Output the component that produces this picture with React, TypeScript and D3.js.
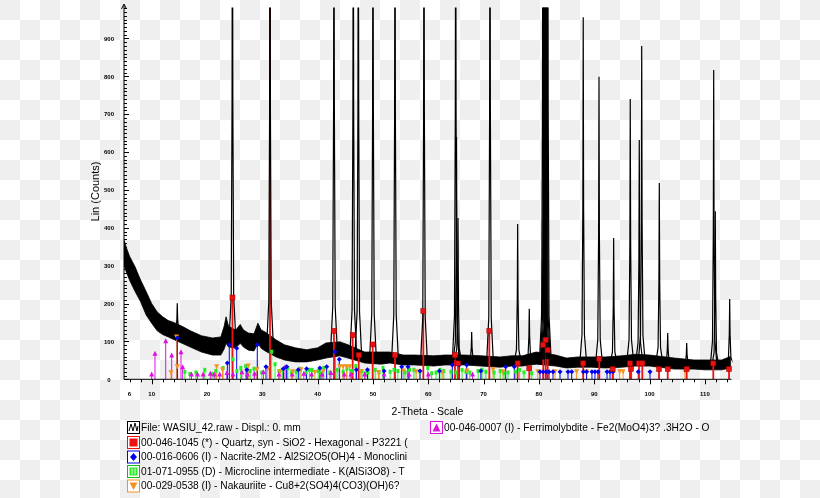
import React from 'react';
import * as d3 from 'd3';

// ---- pattern (background band envelopes, counts) ----
const bgTheta = [5, 5.5, 6, 7, 8, 9, 10, 11, 12, 13, 14, 15.5, 17, 19, 21, 22.5, 23.1, 23.45, 23.9, 25.2, 26.0, 26.6, 27.5, 28.5, 29.2, 29.8, 30.5, 32.5, 34, 36, 38, 40, 41.5, 44, 45.5, 48.5, 51.5, 53, 55.5, 57.5, 61, 63, 66.5, 69.5, 73, 75, 77, 79.5, 83, 85, 87, 89.5, 92, 95, 97.5, 100, 104.5, 108, 110, 113, 114.6];
const bgLow = [300, 280, 262, 232, 205, 170, 148, 128, 118, 112, 105, 95, 85, 72, 64, 64, 80, 95, 85, 83, 95, 85, 77, 75, 95, 82, 75, 59, 51, 46, 46, 51, 56, 62, 56, 43, 40, 43, 38, 38, 35, 38, 38, 35, 32, 35, 35, 40, 35, 30, 32, 32, 30, 32, 35, 35, 27, 27, 25, 25, 30];
const bgHigh = [367, 345, 325, 297, 262, 232, 200, 178, 165, 155, 150, 140, 128, 115, 109, 112, 140, 165, 140, 130, 145, 130, 122, 120, 148, 130, 125, 104, 91, 83, 78, 83, 96, 99, 91, 72, 72, 72, 64, 64, 62, 64, 64, 62, 59, 62, 62, 72, 64, 56, 59, 59, 59, 62, 66, 64, 56, 51, 51, 51, 60];

// ---- diffraction peaks (2-theta, counts) ----
const peakTheta = [14.63, 24.6, 31.39, 42.95, 46.44, 47.35, 50.0, 53.98, 59.22, 64.95, 65.1, 65.37, 67.84, 71.15, 76.15, 78.25, 80.7, 80.85, 81.0, 81.15, 81.3, 81.45, 81.6, 88.0, 90.85, 93.5, 96.5, 98.13, 98.57, 101.75, 103.27, 106.7, 111.58, 111.87, 114.47];
const peakCounts = [201, 1500, 1500, 1500, 1500, 1500, 1500, 1500, 1500, 1500, 640, 426, 125, 1500, 410, 186, 1500, 1400, 1300, 1200, 1300, 1400, 1500, 956, 799, 373, 740, 632, 880, 518, 122, 96, 817, 444, 212];

// ---- reference phases (stick positions, heights) ----
const quartzTheta = [24.6, 31.39, 42.95, 46.33, 47.42, 49.95, 53.98, 59.1, 64.82, 65.37, 71.03, 76.15, 78.25, 80.78, 81.21, 81.58, 88.0, 90.9, 93.32, 96.45, 96.63, 98.08, 98.68, 101.7, 103.27, 106.7, 111.51, 114.35];
const quartzCounts = [216, 982, 128, 117, 64, 92, 64, 180, 64, 42, 128, 42, 29, 91, 104, 77, 42, 54, 27, 42, 27, 42, 42, 27, 27, 27, 42, 27];

const nacriteTheta = [14.63, 23.67, 24.03, 25.37, 27.2, 29.09, 30.66, 33.8, 34.4, 36.5, 38.0, 40.4, 41.63, 43.13, 43.91, 47.0, 49.0, 52.0, 55.19, 56.33, 58.5, 62.0, 64.34, 65.6, 66.94, 69.5, 73.99, 75.54, 80.19, 80.74, 81.28, 81.82, 82.54, 83.8, 85.25, 85.91, 88.01, 88.62, 89.58, 90.12, 90.66, 92.3, 92.84, 93.38, 97.95, 100.07];
const nacriteCounts = [109, 43, 91, 82, 25, 91, 33, 28, 33, 25, 28, 30, 33, 73, 53, 25, 25, 22, 33, 33, 22, 22, 38, 38, 38, 22, 33, 33, 20, 20, 20, 20, 20, 20, 20, 20, 20, 20, 20, 20, 20, 20, 20, 20, 20, 20];

const microclineTheta = [16.0, 16.9, 18.0, 19.6, 20.9, 21.6, 22.9, 24.7, 25.4, 26.1, 27.0, 27.8, 28.5, 29.9, 31.7, 32.3, 33.0, 33.6, 34.6, 35.3, 36.1, 36.8, 37.9, 38.5, 39.0, 40.1, 40.6, 41.1, 42.2, 43.5, 44.6, 45.3, 46.1, 46.9, 48.0, 48.6, 49.1, 50.4, 51.1, 51.8, 53.1, 53.8, 54.5, 55.8, 56.6, 57.4, 58.5, 59.9, 60.6, 61.4, 62.1, 62.8, 64.1, 65.0, 66.1, 66.8, 67.5, 69.0, 69.7, 70.4, 71.9, 73.0, 73.7, 74.4, 75.8, 76.5, 77.3, 78.7];
const microclineCounts = [20, 14, 18, 25, 14, 22, 30, 53, 22, 30, 35, 22, 28, 18, 73, 40, 22, 25, 30, 18, 20, 28, 18, 25, 25, 22, 16, 30, 18, 25, 20, 28, 22, 35, 22, 16, 18, 25, 18, 30, 20, 25, 22, 18, 25, 25, 20, 30, 16, 18, 25, 22, 20, 18, 25, 20, 18, 22, 25, 20, 18, 22, 16, 18, 20, 25, 18, 16];

const nakauriteTheta = [13.5, 14.51, 14.63, 21.74, 22.8, 27.46, 29.0, 31.0, 33.2, 35.5, 37.0, 39.5, 41.0, 44.0, 44.6, 45.2, 45.8, 47.8, 51.0, 55.5, 57.8, 62.5, 67.0, 71.7, 73.5, 79.8, 82.9, 86.8, 88.6, 94.6, 95.2, 96.75, 106.4];
const nakauriteCounts = [17, 112, 33, 33, 25, 35, 25, 28, 20, 20, 25, 18, 20, 33, 33, 33, 33, 20, 18, 22, 20, 18, 22, 25, 20, 20, 20, 20, 20, 20, 20, 25, 20];

const ferriTheta = [10.0, 10.6, 12.54, 13.62, 15.3, 15.6, 17.2, 18.3, 19.3, 20.6, 21.3, 22.3, 23.6, 24.7, 26.3, 27.3, 28.6, 30.2, 33.0, 34.1, 35.4, 37.5, 38.9, 40.8, 42.4, 44.8, 46.0, 48.5, 52.0, 56.5, 60.0, 68.0];
const ferriCounts = [14, 69, 102, 64, 73, 33, 14, 14, 14, 16, 14, 14, 18, 14, 20, 14, 16, 20, 14, 33, 14, 16, 14, 14, 18, 14, 14, 14, 14, 14, 14, 14];

// ---- axes ----
const xTickLabels = [6, 10, 20, 30, 40, 50, 60, 70, 80, 90, 100, 110];
const yTickLabels = [0, 100, 200, 300, 400, 500, 600, 700, 800, 900];

// ---- legend ----
const legendLeft = [
  'File: WASIU_42.raw - Displ.: 0. mm',
  '00-046-1045 (*) - Quartz, syn - SiO2 - Hexagonal - P3221 (',
  '00-016-0606 (I) - Nacrite-2M2 - Al2Si2O5(OH)4 - Monoclini',
  '01-071-0955 (D) -  Microcline intermediate - K(AlSi3O8) - T',
  '00-029-0538 (I) - Nakauriite - Cu8+2(SO4)4(CO3)(OH)6?',
];
const legendRight = ['00-046-0007 (I) - Ferrimolybdite - Fe2(MoO4)3? .3H2O - O'];

const FONT = 'Liberation Sans, Arial, sans-serif';
const RED = '#ee1111';
const BLUE = '#0000ee';
const GREEN = '#22ee22';
const ORANGE = '#f39321';
const MAGENTA = '#dd11dd';

export default function App() {
  const x = d3.scaleLinear().domain([5, 114.6]).range([124, 730.4]);
  const y = d3.scaleLinear().domain([0, 982]).range([379.3, 7.4]);
  const x0 = x(5);
  const y0 = y(0);

  const idx = d3.range(bgTheta.length);
  const band = d3
    .area<number>()
    .x((i) => x(bgTheta[i]))
    .y0((i) => y(bgLow[i]))
    .y1((i) => y(bgHigh[i]))(idx) as string;

  const baseAt = (t: number) => {
    const i = Math.max(1, Math.min(bgTheta.length - 1, d3.bisectLeft(bgTheta, t)));
    const a = bgTheta[i - 1], b = bgTheta[i];
    const f = (t - a) / (b - a);
    const lo = bgLow[i - 1] + f * (bgLow[i] - bgLow[i - 1]);
    const hi = bgHigh[i - 1] + f * (bgHigh[i] - bgHigh[i - 1]);
    return (lo + hi) / 2;
  };

  const offs = [-0.6, -0.22, -0.07, 0, 0.07, 0.22, 0.6];
  const fracs = [0, 0.08, 0.45, 1, 0.45, 0.08, 0];
  const peakLine = d3.line<[number, number]>().x((d) => x(d[0])).y((d) => y(d[1]));
  const peakPaths = peakTheta.map((t, i) => {
    const base = baseAt(t);
    const h = peakCounts[i];
    const pts = offs.map((o, k) => [t + o, base + fracs[k] * (h - base)] as [number, number]);
    return peakLine(pts) as string;
  });

  const xMinor = d3.range(6, 115, 2);
  const yMinor = d3.range(0, 981, 10);

  const sym = (type: string, cx: number, cy: number, s: number, fill: string) => {
    if (type === 'square') return <rect x={cx - s / 2} y={cy - s / 2} width={s} height={s} fill={fill} stroke="#a00000" strokeWidth={0.5} />;
    if (type === 'diamond') return <path d={`M${cx},${cy - s / 2}L${cx + s / 2},${cy}L${cx},${cy + s / 2}L${cx - s / 2},${cy}Z`} fill={fill} />;
    if (type === 'down') return <path d={`M${cx - s / 2},${cy - s / 2}L${cx + s / 2},${cy - s / 2}L${cx},${cy + s / 2}Z`} fill={fill} />;
    if (type === 'up') return <path d={`M${cx - s / 2},${cy + s / 2}L${cx + s / 2},${cy + s / 2}L${cx},${cy - s / 2}Z`} fill={fill} />;
    return <rect x={cx - s / 2 + 0.5} y={cy - s / 2} width={s - 1} height={s} fill={fill} />;
  };

  const stickLines = (thetas: number[], counts: number[], color: string, w: number, key: string) =>
    thetas.map((t, i) => (
      <line key={key + i} x1={x(t)} x2={x(t)} y1={y0} y2={y(counts[i])} stroke={color} strokeWidth={w} />
    ));
  const stickMarks = (thetas: number[], counts: number[], color: string, type: string, s: number, key: string) =>
    thetas.map((t, i) => (counts[i] < 900 ? <g key={key + i}>{sym(type, x(t), y(counts[i]), s, color)}</g> : null));

  const legendRows = [427, 442, 456.5, 471, 485.5];
  const legendColors = ['#000', RED, BLUE, '#11bb11', ORANGE];
  const legendIcon = (i: number, ix: number, cy: number) => {
    const c = legendColors[i];
    return (
      <g key={'li' + i}>
        <rect x={ix + 0.5} y={cy - 5.5} width={12} height={12} fill="#fff" stroke={c} strokeWidth={1} />
        {i === 0 && (
          <path d={`M${ix + 2},${cy + 4}L${ix + 4},${cy - 3}L${ix + 6},${cy + 4}L${ix + 8},${cy - 4}L${ix + 10},${cy + 4}L${ix + 11},${cy - 1}`} fill="none" stroke="#000" strokeWidth={1} />
        )}
        {i === 1 && <rect x={ix + 2.5} y={cy - 3.5} width={8} height={8} fill={RED} />}
        {i === 2 && <path d={`M${ix + 6.5},${cy - 3.5}L${ix + 10},${cy + 0.5}L${ix + 6.5},${cy + 4.5}L${ix + 3},${cy + 0.5}Z`} fill={BLUE} />}
        {i === 3 && (
          <g>
            <rect x={ix + 2.5} y={cy - 3.5} width={8} height={8} fill={GREEN} />
            <line x1={ix + 5} x2={ix + 5} y1={cy - 2.5} y2={cy + 3.5} stroke="#fff" strokeWidth={1} />
            <line x1={ix + 8} x2={ix + 8} y1={cy - 2.5} y2={cy + 3.5} stroke="#fff" strokeWidth={1} />
          </g>
        )}
        {i === 4 && <path d={`M${ix + 2.5},${cy - 3}L${ix + 10.5},${cy - 3}L${ix + 6.5},${cy + 4.5}Z`} fill={ORANGE} />}
      </g>
    );
  };

  return (
    <svg width={820} height={498} style={{ position: 'fixed', left: 0, top: 0 }} xmlns="http://www.w3.org/2000/svg">
      <defs>
        <pattern id="chk" width={40} height={40} patternUnits="userSpaceOnUse">
          <rect width={40} height={40} fill="#ffffff" />
          <rect x={0} y={0} width={20} height={20} fill="#efefef" />
          <rect x={20} y={20} width={20} height={20} fill="#efefef" />
        </pattern>
        <clipPath id="plot">
          <rect x={x0} y={y(982)} width={x(114.6) - x0 + 2} height={y0 - y(982)} />
        </clipPath>
      </defs>
      <rect width={820} height={498} fill="url(#chk)" />

      <g clipPath="url(#plot)">
        <path d={band} fill="#000" stroke="#000" strokeWidth={0.8} />
        {stickLines(microclineTheta, microclineCounts, GREEN, 1, 'ml')}
        {stickLines(ferriTheta, ferriCounts, MAGENTA, 1, 'fl')}
        {stickLines(nakauriteTheta, nakauriteCounts, ORANGE, 1, 'nl')}
        {stickLines(nacriteTheta, nacriteCounts, BLUE, 1, 'cl')}
        {stickLines(quartzTheta, quartzCounts, RED, 1.8, 'ql')}
        {peakPaths.map((d, i) => (
          <path key={'p' + i} d={d} fill="none" stroke="#000" strokeWidth={1.2} />
        ))}
        {stickMarks(microclineTheta, microclineCounts, GREEN, 'bar', 4, 'm')}
        {stickMarks(ferriTheta, ferriCounts, MAGENTA, 'up', 5, 'f')}
        {stickMarks(nakauriteTheta, nakauriteCounts, ORANGE, 'down', 5, 'n')}
        {stickMarks(nacriteTheta, nacriteCounts, BLUE, 'diamond', 5, 'c')}
        {stickMarks(quartzTheta, quartzCounts, RED, 'square', 5, 'q')}
      </g>

      {/* axes */}
      <line x1={x0} x2={x0} y1={y0} y2={5} stroke="#000" strokeWidth={1} />
      <path d={`M${x0 - 2.5},${9}L${x0},${4}L${x0 + 2.5},${9}`} fill="none" stroke="#000" strokeWidth={1} />
      <line x1={x0} x2={x(114.6) + 1} y1={y0} y2={y0} stroke="#000" strokeWidth={1} />
      {yMinor.map((v) => (
        <line key={'yt' + v} x1={x0} x2={x0 + (v % 100 === 0 ? 5 : 3)} y1={Math.round(y(v)) + 0.5} y2={Math.round(y(v)) + 0.5} stroke="#000" strokeWidth={1} />
      ))}
      {xMinor.map((v) => (
        <line key={'xt' + v} x1={Math.round(x(v)) + 0.5} x2={Math.round(x(v)) + 0.5} y1={y0} y2={y0 + (v % 10 === 0 ? 5 : 3)} stroke="#000" strokeWidth={1} />
      ))}
      {yTickLabels.map((v) => (
        <text key={'yl' + v} x={109} y={y(v) + 2.2} fontFamily={FONT} fontSize={6} fontWeight="bold" textAnchor="middle" fill="#000">
          {v}
        </text>
      ))}
      {xTickLabels.map((v) => (
        <text key={'xl' + v} x={x(v)} y={395.5} fontFamily={FONT} fontSize={6} fontWeight="bold" textAnchor="middle" fill="#000">
          {v}
        </text>
      ))}
      <text transform="translate(98.5,191.5) rotate(-90)" fontFamily={FONT} fontSize={11} textAnchor="middle" fill="#000">
        Lin (Counts)
      </text>
      <text x={427.5} y={414.5} fontFamily={FONT} fontSize={10.5} textAnchor="middle" fill="#000">
        2-Theta - Scale
      </text>

      {/* legend */}
      {legendLeft.map((t, i) => (
        <g key={'lg' + i}>
          {legendIcon(i, 127, legendRows[i])}
          <text x={141} y={legendRows[i] + 3.5} fontFamily={FONT} fontSize={10.2} fill="#000">
            {t}
          </text>
        </g>
      ))}
      {legendRight.map((t, i) => (
        <g key={'lr' + i}>
          <rect x={430.5} y={legendRows[i] - 5.5} width={12} height={12} fill="#fff" stroke={MAGENTA} strokeWidth={1} />
          <path d={`M${432.5},${legendRows[i] + 4.5}L${440.5},${legendRows[i] + 4.5}L${436.5},${legendRows[i] - 3.5}Z`} fill={MAGENTA} />
          <text x={444} y={legendRows[i] + 3.5} fontFamily={FONT} fontSize={10.2} fill="#000">
            {t}
          </text>
        </g>
      ))}
    </svg>
  );
}
